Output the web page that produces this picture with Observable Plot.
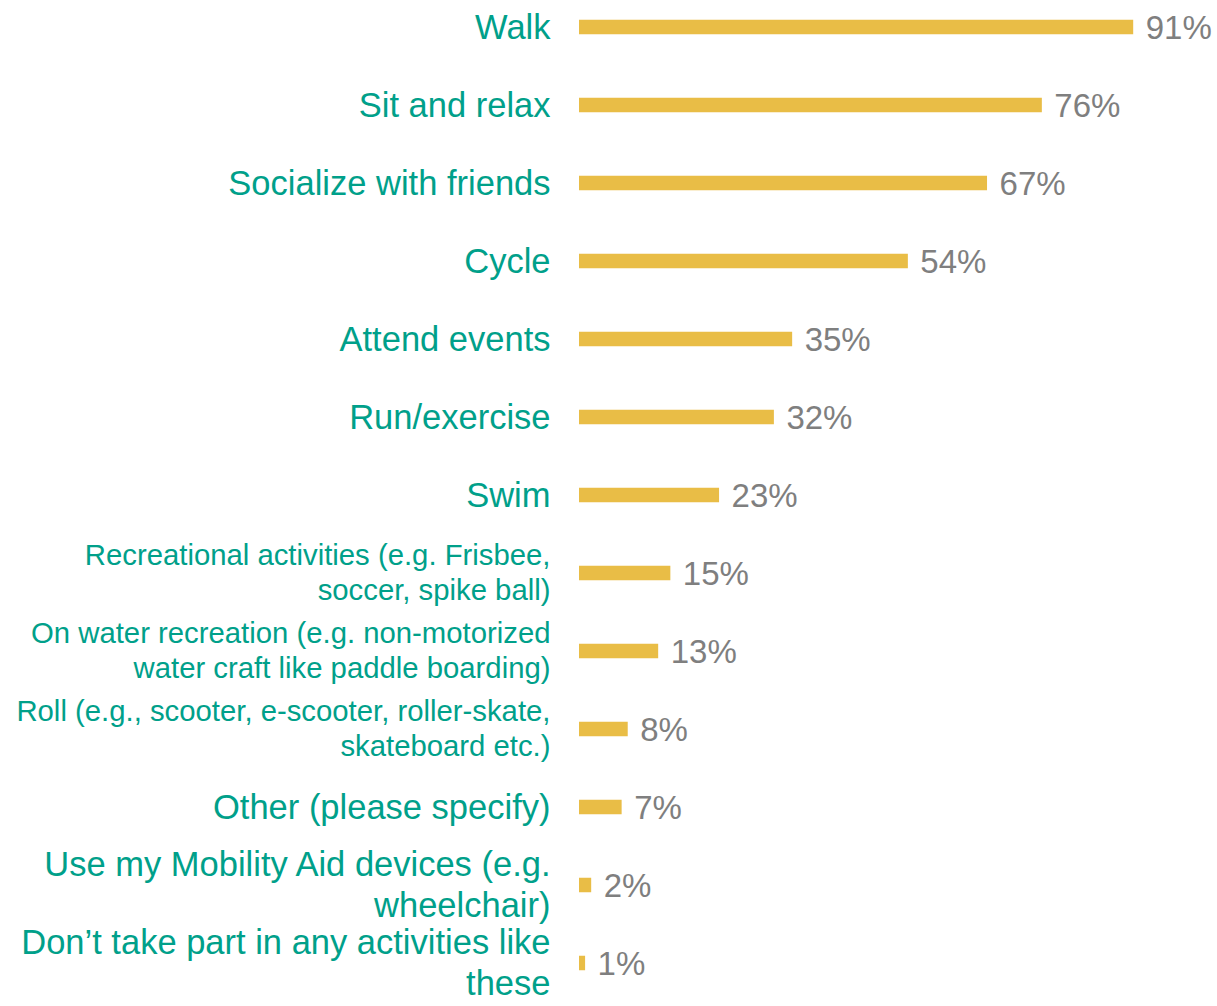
<!DOCTYPE html>
<html><head><meta charset="utf-8">
<script src="https://cdn.jsdelivr.net/npm/d3@7"></script>
<script src="https://cdn.jsdelivr.net/npm/@observablehq/plot@0.6"></script>
<style>
body{margin:0;background:#fff;}
#chart svg{font-family:"Liberation Sans",Arial,sans-serif;}
</style>
</head><body><div id="chart"></div>
<script>
const activities = [
  "Walk",
  "Sit and relax",
  "Socialize with friends",
  "Cycle",
  "Attend events",
  "Run/exercise",
  "Swim",
  "Recreational activities (e.g. Frisbee,\nsoccer, spike ball)",
  "On water recreation (e.g. non-motorized\nwater craft like paddle boarding)",
  "Roll (e.g., scooter, e-scooter, roller-skate,\nskateboard etc.)",
  "Other (please specify)",
  "Use my Mobility Aid devices (e.g.\nwheelchair)",
  "Don\u2019t take part in any activities like\nthese"
];
const percents = [91, 76, 67, 54, 35, 32, 23, 15, 13, 8, 7, 2, 1];

const data = activities.map((a, i) => ({activity: a, pct: percents[i], idx: i}));
const smallIdx = new Set([7, 8, 9]);

const chart = Plot.plot({
  width: 1217,
  height: 1006,
  marginTop: 0, marginBottom: 0, marginLeft: 0, marginRight: 0,
  x: {domain: [0, 100], range: [579, 1188], axis: null},
  y: {domain: activities, range: [-15.25, 1005.25], padding: 0, axis: null},
  marks: [
    Plot.barX(data, {x: "pct", y: "activity", fill: "#e9bd46", insetTop: 31.75, insetBottom: 31.75}),
    Plot.text(data, {x: "pct", y: "activity", text: d => d.pct + "%", dx: 12, dy: 1,
      textAnchor: "start", fill: "#7f7f7f", fontSize: 33}),
    Plot.text(data, {x: 0, y: "activity", text: "activity", dx: -29, dy: -2,
      textAnchor: "end", lineAnchor: "middle", fill: "#00a08a",
      fontSize: d => smallIdx.has(d.idx) ? 29.3 : 34.5, lineHeight: 1.18})
  ]
});
document.getElementById("chart").appendChild(chart);
</script>
</body></html>
